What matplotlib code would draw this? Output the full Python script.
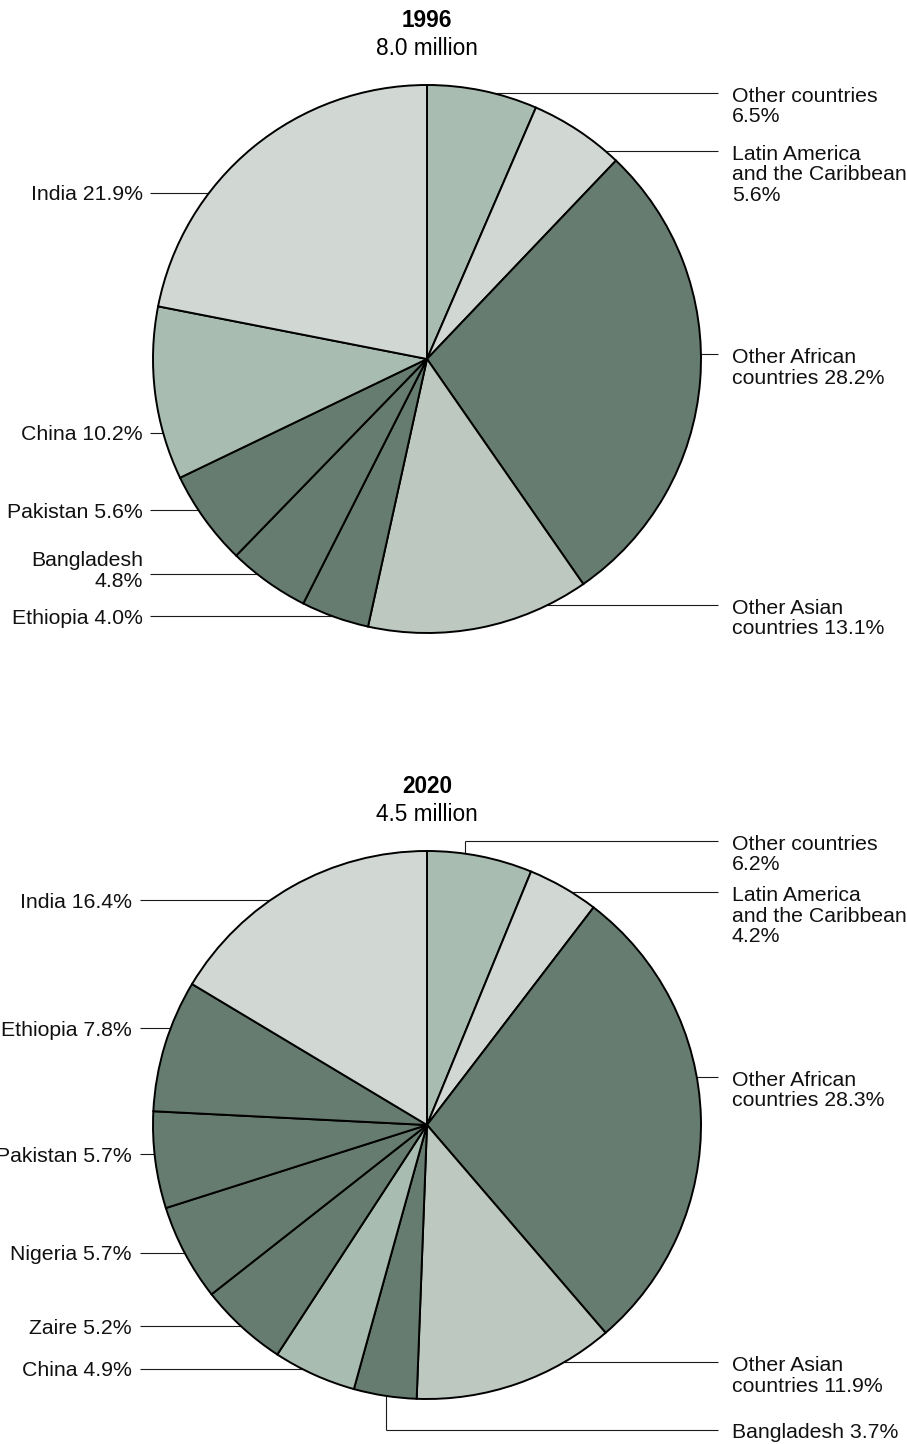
import matplotlib.pyplot as plt

plt.rcParams['font.family'] = ['Liberation Sans', 'DejaVu Sans']

# canvas size in pixels (figure is drawn 1:1 in these units)
W, H = 907, 1444

DARK = "#667c70"
MID = "#a9bcb1"
SOFT = "#bdc9c0"
PALE = "#d1d8d4"

years = ["1996", "2020"]
totals = ["8.0 million", "4.5 million"]

# slices run clockwise from 12 o'clock
names_1996 = ["Other countries\n", "Latin America\nand the Caribbean\n",
              "Other African\ncountries ", "Other Asian\ncountries ",
              "Ethiopia ", "Bangladesh\n", "Pakistan ", "China ", "India "]
shares_1996 = [6.5, 5.6, 28.2, 13.1, 4.0, 4.8, 5.6, 10.2, 21.9]
colors_1996 = [MID, PALE, DARK, SOFT, DARK, DARK, DARK, MID, PALE]

names_2020 = ["Other countries\n", "Latin America\nand the Caribbean\n",
              "Other African\ncountries ", "Other Asian\ncountries ",
              "Bangladesh ", "China ", "Zaire ", "Nigeria ", "Pakistan ",
              "Ethiopia ", "India "]
shares_2020 = [6.2, 4.2, 28.3, 11.9, 3.7, 4.9, 5.2, 5.7, 5.7, 7.8, 16.4]
colors_2020 = [MID, PALE, DARK, SOFT, DARK, MID, DARK, DARK, DARK, DARK, PALE]

# label placement: side, leader y (px from top), optional elbow x
place_1996 = [("R", 93, None), ("R", 151, None), ("R", 354, None),
              ("R", 605, None), ("L", 616, None), ("L", 574, None),
              ("L", 510, None), ("L", 433, None), ("L", 193, None)]
place_2020 = [("R", 841, 465), ("R", 892, None), ("R", 1077, None),
              ("R", 1362, None), ("R", 1430, 386), ("L", 1369, None),
              ("L", 1326, None), ("L", 1253, None), ("L", 1154, None),
              ("L", 1028, None), ("L", 900, None)]

pies = [
    dict(cy=359, names=names_1996, shares=shares_1996, colors=colors_1996,
         place=place_1996, left_line=150, left_text=143),
    dict(cy=1125, names=names_2020, shares=shares_2020, colors=colors_2020,
         place=place_2020, left_line=140, left_text=132),
]

CX, R = 427, 274
RIGHT_LINE, RIGHT_TEXT = 718, 732
FS = 15.3
LSP = 1.1


def up(y):
    return H - y


fig = plt.figure(figsize=(W / 100, H / 100), dpi=100)
ax = fig.add_axes([0, 0, 1, 1])

for year, total, p in zip(years, totals, pies):
    cy = p["cy"]
    ax.pie(p["shares"], colors=p["colors"], startangle=90, counterclock=False,
           center=(CX, up(cy)), radius=R,
           wedgeprops=dict(edgecolor="black", linewidth=1.4, zorder=3))

    ax.text(CX, up(cy - R - 58), year, ha="center", va="baseline",
            fontsize=16.3, fontweight="bold")
    ax.text(CX, up(cy - R - 30), total, ha="center", va="baseline",
            fontsize=16.3)

    for name, share, (side, ly, ex) in zip(p["names"], p["shares"], p["place"]):
        label = f"{name}{share:.1f}%"
        n = label.count("\n")
        kw = dict(color="#1a1a1a", lw=0.8, zorder=1, solid_capstyle="butt")
        if side == "R":
            x0 = ex if ex is not None else CX
            ax.plot([x0, RIGHT_LINE], [up(ly), up(ly)], **kw)
            if ex is not None:
                ax.plot([ex, ex], [up(ly), up(cy)], **kw)
            top = ly - (6 if n else 7.5)
            ax.text(RIGHT_TEXT, up(top), label, ha="left", va="top",
                    fontsize=FS, linespacing=LSP, color="#111111")
        else:
            ax.plot([p["left_line"], CX], [up(ly), up(ly)], **kw)
            top = ly - 7.5 - n * 15
            ax.text(p["left_text"], up(top), label,
                    ha="right", va="top", multialignment="right",
                    fontsize=FS, linespacing=LSP, color="#111111")

ax.set_xlim(0, W)
ax.set_ylim(0, H)
ax.set_aspect("equal")
ax.axis("off")

fig.savefig("out.png", dpi=100, facecolor="white")
